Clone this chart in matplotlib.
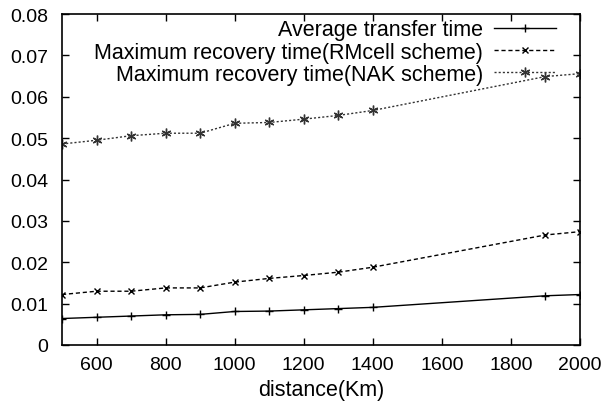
import matplotlib.pyplot as plt

distance = [500, 600, 700, 800, 900, 1000, 1100, 1200, 1300, 1400, 1900, 2000]
avg_transfer = [0.0064, 0.0067, 0.0070, 0.0073, 0.0074, 0.0081, 0.0082, 0.0085, 0.0088, 0.0091, 0.0119, 0.0122]
rmcell_recovery = [0.0122, 0.0130, 0.0130, 0.0138, 0.0138, 0.0152, 0.0161, 0.0168, 0.0176, 0.0188, 0.0266, 0.0274]
nak_recovery = [0.0486, 0.0495, 0.0506, 0.0512, 0.0512, 0.0536, 0.0538, 0.0546, 0.0555, 0.0567, 0.0649, 0.0656]

x_ticks = [600, 800, 1000, 1200, 1400, 1600, 1800, 2000]
y_ticks = [0, 0.01, 0.02, 0.03, 0.04, 0.05, 0.06, 0.07, 0.08]
y_tick_labels = ["0", "0.01", "0.02", "0.03", "0.04", "0.05", "0.06", "0.07", "0.08"]


def main():
    plt.rcParams["font.family"] = ["Liberation Sans", "DejaVu Sans"]
    fig = plt.figure(figsize=(6.05, 4.06), dpi=100)
    ax = fig.add_axes([0.1025, 0.1478, 0.856, 0.815])

    ax.plot(distance, avg_transfer, color="black", linestyle="-", linewidth=1.0,
            marker="+", markersize=6, label="Average transfer time")
    ax.plot(distance, rmcell_recovery, color="black", linestyle=(0, (3, 2)), linewidth=1.0,
            marker="x", markersize=5, label="Maximum recovery time(RMcell scheme)")
    ax.plot(distance, nak_recovery, color="#333333", linestyle=(0, (1.5, 1.5)), linewidth=1.0,
            marker=(6, 2, 0), markersize=7, label="Maximum recovery time(NAK scheme)")

    ax.set_xlim(500, 2000)
    ax.set_ylim(0, 0.08)
    ax.set_xticks(x_ticks)
    ax.set_yticks(y_ticks)
    ax.set_yticklabels(y_tick_labels)
    ax.tick_params(direction="in", top=True, right=True, labelsize=14, length=5, width=1)
    ax.tick_params(axis="x", pad=8)
    ax.tick_params(axis="y", pad=10)
    for side in ax.spines.values():
        side.set_linewidth(1.2)
    ax.set_xlabel("distance(Km)", fontsize=15.5, labelpad=4)

    ax.legend(loc="upper right", bbox_to_anchor=(0.965, 1.0), frameon=False,
              markerfirst=False, fontsize=15.5, handlelength=2.9, borderaxespad=0.15,
              borderpad=0.1, labelspacing=0.05, handletextpad=0.5)

    fig.savefig("out.png", dpi=100)


if __name__ == "__main__":
    main()
